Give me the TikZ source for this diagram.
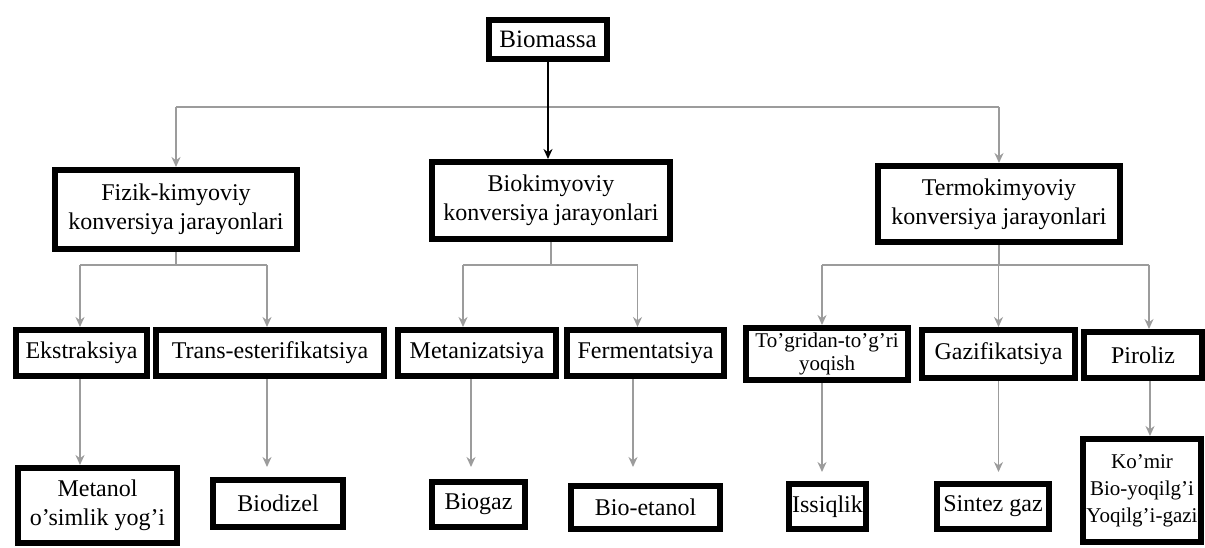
\documentclass[tikz,border=0pt]{standalone}
\usepackage{fontspec}
\setmainfont{Liberation Serif}
\usetikzlibrary{arrows.meta}
\definecolor{linegray}{HTML}{9C9C9C}
\tikzset{
  box/.style={draw, line width=6pt, fill=white, align=center, inner sep=2pt,
    font=\fontsize{24}{29}\selectfont},
  gline/.style={draw=linegray, line width=1.6pt},
  garrow/.style={gline, -{Stealth[length=10pt,width=9pt]}},
  barrow/.style={draw=black, line width=1.6pt, -{Stealth[length=10pt,width=9pt]}}
}
\begin{document}
\begin{tikzpicture}[x=1pt,y=-1pt]
\useasboundingbox (0,0) rectangle (1205,547);
% top
\node[box, minimum width=118pt, minimum height=39pt, font=\fontsize{25}{30}\selectfont] (bio) at (548,39.5) {Biomassa};
% conversion processes
\node[box, minimum width=242pt, minimum height=79pt] (fizik) at (176,209.5) {Fizik-kimyoviy\\konversiya jarayonlari};
\node[box, minimum width=238pt, minimum height=77pt] (biok) at (551,200.5) {Biokimyoviy\\konversiya jarayonlari};
\node[box, minimum width=242pt, minimum height=76pt] (termo) at (999,204) {Termokimyoviy\\konversiya jarayonlari};
% methods
\node[box, minimum width=131pt, minimum height=46pt] (ekstr) at (81.5,353) {Ekstraksiya};
\node[box, minimum width=228pt, minimum height=46pt] (trans) at (270,353) {Trans-esterifikatsiya};
\node[box, minimum width=158pt, minimum height=46pt] (metan) at (477,353) {Metanizatsiya};
\node[box, minimum width=157pt, minimum height=46pt] (ferm) at (645.5,353) {Fermentatsiya};
\node[box, minimum width=162pt, minimum height=52pt, font=\fontsize{21}{23}\selectfont] (togri) at (827,354) {To'gridan-to'g'ri\\yoqish};
\node[box, minimum width=153pt, minimum height=48pt] (gaz) at (998.5,354) {Gazifikatsiya};
\node[box, minimum width=118pt, minimum height=46pt] (piro) at (1143,355) {Piroliz};
% products
\node[box, minimum width=159pt, minimum height=75pt] (metanol) at (97.5,505.5) {Metanol\\o'simlik yog'i};
\node[box, minimum width=130pt, minimum height=47pt] (biodiz) at (278,503.5) {Biodizel};
\node[box, minimum width=93pt, minimum height=45pt] (biogaz) at (478.5,504.5) {Biogaz};
\node[box, minimum width=149pt, minimum height=43pt] (bioet) at (645.5,507.5) {Bio-etanol};
\node[box, minimum width=77pt, minimum height=45pt, inner xsep=0pt] (issiq) at (827.5,506.5) {Issiqlik};
\node[box, minimum width=112pt, minimum height=45pt] (sintez) at (993,506.5) {Sintez gaz};
\node[box, minimum width=118pt, minimum height=103pt, inner xsep=0pt, font=\fontsize{21}{27}\selectfont] (komir) at (1142,490.5) {Ko'mir\\Bio-yoqilg'i\\Yoqilg'i-gazi};
% connectors
\coordinate (top) at (548,107);
\coordinate (lvl) at (0,265);
\draw[gline] (fizik.north |- top) -- (termo.north |- top);
\draw[garrow] (fizik.north |- top) -- (fizik.north);
\draw[garrow] (termo.north |- top) -- (termo.north);
\draw[barrow] (bio.south) -- (bio.south |- biok.north);
% branches to methods
\foreach \n/\s in {ekstr/-1.5, trans/-3, metan/-14, ferm/-8, togri/-5, gaz/0, piro/6}
  \coordinate (\n-in) at ([xshift=\s pt]\n.north);
\draw[gline] (fizik.south) -- (fizik.south |- lvl);
\draw[gline] (ekstr-in |- lvl) -- (trans-in |- lvl);
\draw[gline] (biok.south) -- (biok.south |- lvl);
\draw[gline] (metan-in |- lvl) -- (ferm-in |- lvl);
\draw[gline] (termo.south) -- (termo.south |- lvl);
\draw[gline] (togri-in |- lvl) -- (piro-in |- lvl);
\foreach \n in {ekstr,trans,metan,ferm,togri,gaz,piro}
  \draw[garrow] (\n-in |- lvl) -- (\n-in);
% methods to products
\foreach \a/\b/\s/\g in {ekstr/metanol/-1.5/0, trans/biodiz/-3/10, metan/biogaz/-6/12, ferm/bioet/-12.5/16, togri/issiq/-5/9, gaz/sintez/0/9, piro/komir/7/0}{
  \coordinate (\a-out) at ([xshift=\s pt]\a.south);
  \draw[garrow, shorten >=\g pt] (\a-out) -- (\a-out |- \b.north);
}
\end{tikzpicture}
\end{document}
